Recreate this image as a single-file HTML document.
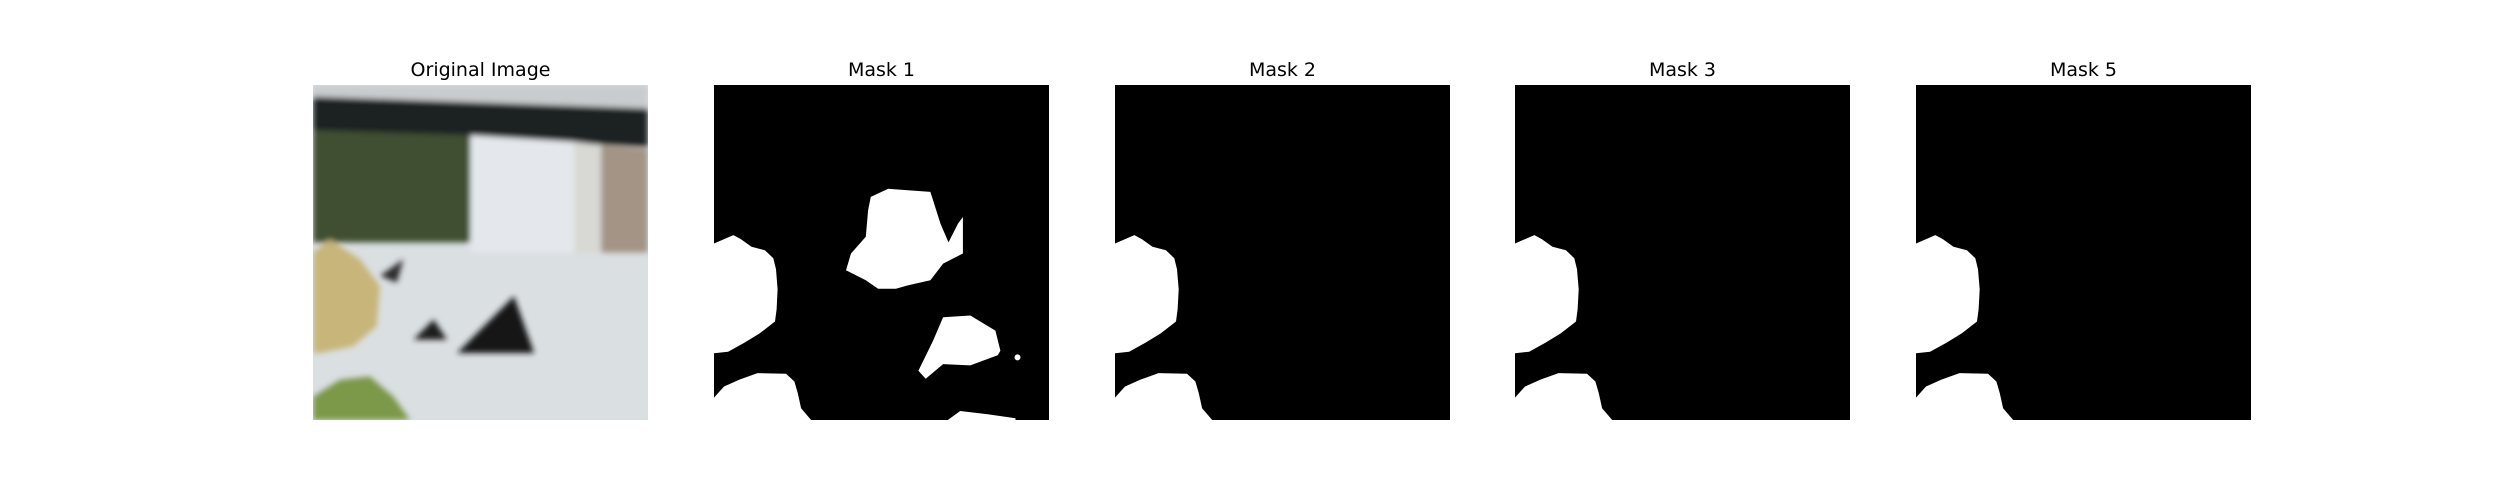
<!DOCTYPE html>
<html><head><meta charset="utf-8"><style>
html,body{margin:0;padding:0;background:#fff;}
svg{display:block;}
text{font-family:"DejaVu Sans","Liberation Sans",sans-serif;font-size:19px;fill:#000;}
</style></head><body>
<svg id="fig" width="2500" height="500" viewBox="0 0 2500 500" xmlns="http://www.w3.org/2000/svg">
<defs><filter id="blur" x="-5%" y="-5%" width="110%" height="110%"><feGaussianBlur stdDeviation="3"/></filter>
<clipPath id="clip0"><rect x="313" y="85" width="335" height="335"/></clipPath></defs>
<rect width="2500" height="500" fill="#fff"/>
</svg>
<script>
const panelTitles = ["Original Image","Mask 1","Mask 2","Mask 3","Mask 5"];
const panelLeft = [313, 714, 1115, 1515, 1916];
const panelTop = 85, panelSize = 335;
// mask blobs, normalized coordinates within a panel
const maskA_center = [[0.468,0.334],[0.52,0.31],[0.646,0.319],[0.676,0.414],[0.70,0.47],[0.728,0.414],[0.743,0.394],[0.743,0.503],[0.684,0.533],[0.646,0.583],[0.58,0.598],[0.543,0.608],[0.49,0.608],[0.453,0.583],[0.394,0.553],[0.409,0.503],[0.453,0.453],[0.46,0.374]];
const maskA_right = [[0.684,0.693],[0.765,0.688],[0.84,0.733],[0.855,0.793],[0.847,0.807],[0.765,0.837],[0.684,0.833],[0.632,0.877],[0.61,0.853],[0.654,0.763]];
const maskA_bottomRight = [[0.698,1],[0.735,0.973],[0.817,0.983],[0.9,0.995],[0.9,1]];
const maskB_left = [[0,0.473],[0.058,0.448],[0.08,0.46],[0.112,0.483],[0.152,0.493],[0.177,0.517],[0.185,0.55],[0.19,0.61],[0.187,0.67],[0.182,0.706],[0.137,0.741],[0.09,0.77],[0.042,0.796],[0,0.801]];
const maskB_bottom = [[0,0.933],[0.03,0.9],[0.075,0.88],[0.13,0.86],[0.215,0.862],[0.24,0.885],[0.25,0.92],[0.26,0.965],[0.29,1],[0,1]];
const maskShapes = [null,[maskB_left,maskB_bottom,maskA_center,maskA_right,maskA_bottomRight],[maskB_left,maskB_bottom],[maskB_left,maskB_bottom],[maskB_left,maskB_bottom]];
// original image regions: [color, polygon]
const photoRegions = [
 ["#c9ccce",[[0,0],[1,0],[1,0.08],[0,0.04]]],
 ["#1f2224",[[0,0.035],[1,0.07],[1,0.185],[0,0.135]]],
 ["#3f5030",[[0,0.135],[0.47,0.15],[0.47,0.47],[0,0.47]]],
 ["#e4e8ec",[[0.47,0.15],[0.78,0.17],[0.78,0.5],[0.47,0.5]]],
 ["#d8d8d4",[[0.78,0.17],[0.86,0.18],[0.86,0.5],[0.78,0.5]]],
 ["#a39485",[[0.86,0.18],[1,0.19],[1,0.5],[0.86,0.5]]],
 ["#151515",[[0.43,0.8],[0.6,0.63],[0.66,0.8]]],
 ["#1e1e1e",[[0.3,0.76],[0.36,0.7],[0.4,0.76]]],
 ["#2a2a2a",[[0.2,0.57],[0.27,0.52],[0.25,0.59]]],
 ["#c7b57a",[[0,0.5],[0.05,0.46],[0.14,0.52],[0.2,0.6],[0.19,0.72],[0.12,0.78],[0.02,0.8],[0,0.8]]],
 ["#7c984a",[[0,1],[0,0.93],[0.08,0.88],[0.17,0.87],[0.24,0.93],[0.29,1]]]
];
const svg = document.getElementById('fig');
const NS = 'http://www.w3.org/2000/svg';
function sx(i,v){return panelLeft[i]+v*panelSize;}
function sy(v){return panelTop+v*panelSize;}
function pts(i,poly){return poly.map(p=>sx(i,p[0]).toFixed(1)+','+sy(p[1]).toFixed(1)).join(' ');}
panelTitles.forEach((t,i)=>{
  const tx=document.createElementNS(NS,'text');
  tx.setAttribute('x',panelLeft[i]+panelSize/2);
  tx.setAttribute('y',76);
  tx.setAttribute('text-anchor','middle');
  tx.textContent=t;
  
  
  svg.appendChild(tx);
  const g=document.createElementNS(NS,'g');
  
  
  svg.appendChild(g);
  const bg=document.createElementNS(NS,'rect');
  bg.setAttribute('x',panelLeft[i]);bg.setAttribute('y',panelTop);
  bg.setAttribute('width',panelSize);bg.setAttribute('height',panelSize);
  bg.setAttribute('fill',i===0?'#dadfe2':'#000');
  
  
  g.appendChild(bg);
  if(i===0){
    const inner=document.createElementNS(NS,'g');
    inner.setAttribute('clip-path','url(#clip0)');
    g.appendChild(inner);
    const bl=document.createElementNS(NS,'g');
    bl.setAttribute('filter','url(#blur)');
    inner.appendChild(bl);
    photoRegions.forEach(r=>{
      const p=document.createElementNS(NS,'polygon');
      p.setAttribute('points',pts(0,r[1]));p.setAttribute('fill',r[0]);
      
      
      bl.appendChild(p);
    });
  } else {
    maskShapes[i].forEach(poly=>{
      const p=document.createElementNS(NS,'polygon');
      p.setAttribute('points',pts(i,poly));p.setAttribute('fill','#fff');
      
      
      g.appendChild(p);
    });
    if(i===1){
      const c=document.createElementNS(NS,'circle');
      c.setAttribute('cx',sx(1,0.906));c.setAttribute('cy',sy(0.813));c.setAttribute('r',3);
      c.setAttribute('fill','#fff');
      
      
      g.appendChild(c);
    }
  }
});
</script>
</body></html>
